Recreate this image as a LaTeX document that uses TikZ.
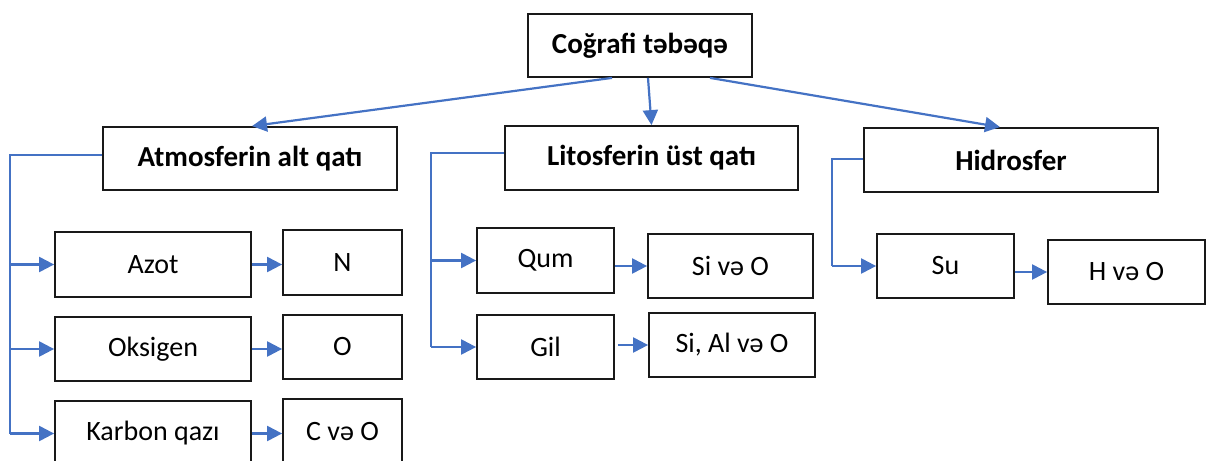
\documentclass[tikz,border=0pt]{standalone}
\usepackage{fontspec}
\setmainfont{Carlito}
\usetikzlibrary{arrows.meta}
\definecolor{lnblue}{HTML}{4472C4}
\begin{document}
\begin{tikzpicture}[x=1pt,y=-1pt,
  box/.style={draw=black!90,line width=1.8pt,inner sep=0pt,align=center},
  rg/.style={font=\fontsize{28}{32}\selectfont},
  bd/.style={font=\fontsize{29}{33}\selectfont\bfseries},
  arr/.style={draw=lnblue,line width=2.2pt,-{Triangle[length=15pt,width=15pt]}},
  brk/.style={draw=lnblue,line width=2pt}]
\useasboundingbox (0,0) rectangle (1206,460);
\begin{scope}
\clip (0,0) rectangle (1206,460);
% boxes
\node[box,bd,minimum width=224pt,minimum height=63pt] (top) at (640,45.5) {Coğrafi təbəqə};
\node[box,bd,minimum width=294pt,minimum height=63pt] (atm) at (250,158.5) {Atmosferin alt qatı};
\node[box,bd,minimum width=293pt,minimum height=64pt] (lit) at (651.5,158) {Litosferin üst qatı};
\node[box,bd,minimum width=294pt,minimum height=64pt] (hid) at (1011,160) {Hidrosfer};
\node[box,rg,minimum width=196pt,minimum height=65pt] (azot) at (153,264.5) {Azot};
\node[box,rg,minimum width=119pt,minimum height=65pt] (N) at (342.5,262.5) {N};
\node[box,rg,minimum width=196pt,minimum height=64pt] (oks) at (153,349) {Oksigen};
\node[box,rg,minimum width=119pt,minimum height=64pt] (O) at (342.5,347) {O};
\node[box,rg,minimum width=196pt,minimum height=65pt] (kar) at (153,433.5) {Karbon qazı};
\node[box,rg,minimum width=119pt,minimum height=65pt] (CvO) at (342.5,431.5) {C və O};
\node[box,rg,minimum width=137pt,minimum height=65pt] (qum) at (545.5,260.5) {Qum};
\node[box,rg,minimum width=165pt,minimum height=64pt] (SivO) at (730.5,266) {Si və O};
\node[box,rg,minimum width=137pt,minimum height=64pt] (gil) at (545.5,347) {Gil};
\node[box,rg,minimum width=166pt,minimum height=64pt] (SiAl) at (732,345) {Si, Al və O};
\node[box,rg,minimum width=137pt,minimum height=64pt] (su) at (945.5,266) {Su};
\node[box,rg,minimum width=157pt,minimum height=64pt] (HvO) at (1126.5,272) {H və O};
% top arrows
\draw[arr] ([xshift=-28pt]top.south) -- ([xshift=2pt]atm.north);
\draw[arr] ([xshift=8pt]top.south) -- (lit.north);
\draw[arr] ([xshift=70pt]top.south) -- ([xshift=-11pt]hid.north);
% atmosphere bracket
\coordinate (la) at ([xshift=-92pt,yshift=3.5pt]atm.west);
\draw[brk] ([yshift=3.5pt]atm.west) -- (la) -- (la |- kar.west);
\draw[arr] (la |- azot.west) -- (azot.west);
\draw[arr] (la |- oks.west) -- (oks.west);
\draw[arr] (la |- kar.west) -- (kar.west);
\draw[arr] (azot.east) -- (azot.east -| N.west);
\draw[arr] (oks.east) -- (oks.east -| O.west);
\draw[arr] (kar.east) -- (kar.east -| CvO.west);
% lithosphere bracket
\coordinate (ll) at ([xshift=-73pt,yshift=5pt]lit.west);
\draw[brk] ([yshift=5pt]lit.west) -- (ll) -- (ll |- gil.west);
\draw[arr] (ll |- qum.west) -- (qum.west);
\draw[arr] (ll |- gil.west) -- (gil.west);
\draw[arr] (qum.east |- SivO.west) -- (SivO.west);
\draw[arr] ([xshift=3pt]gil.east |- SiAl.west) -- (SiAl.west);
% hydrosphere bracket
\coordinate (lh) at ([xshift=-31pt,yshift=1pt]hid.west);
\draw[brk] ([yshift=1pt]hid.west) -- (lh) -- (lh |- su.west);
\draw[arr] (lh |- su.west) -- (su.west);
\draw[arr] (su.east |- HvO.west) -- (HvO.west);
\end{scope}
\end{tikzpicture}
\end{document}
